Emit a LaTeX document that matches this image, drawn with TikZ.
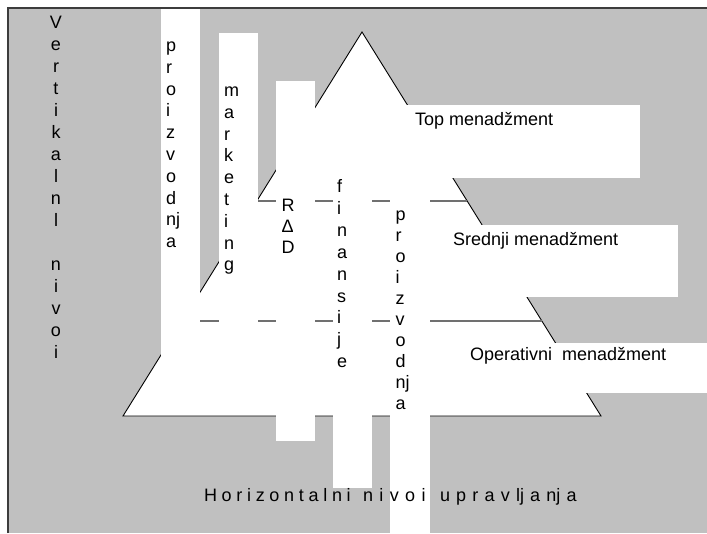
\documentclass[tikz,border=0pt]{standalone}
\usepackage{fontspec}
\setmainfont{Liberation Sans}
\usetikzlibrary{calc}
\definecolor{panel}{RGB}{192,192,192}
\definecolor{rule}{RGB}{112,112,112}
\definecolor{frameline}{RGB}{60,60,60}
\newcommand{\spacedword}[2]{\spaceskip=#1pt\relax #2}
\begin{document}
\begin{tikzpicture}[x=1pt,y=-1pt,
  whitebox/.style={fill=white,draw=none},
  pyramidedge/.style={draw=black,line width=0.9pt},
  levelline/.style={draw=rule,line width=1.5pt},
  lbl/.style={font=\fontsize{18}{22}\selectfont,inner sep=0pt,outer sep=0pt},
]
\useasboundingbox (0,0) rectangle (707,533);

% grey panel
\fill[panel] (8,8) rectangle (707,533);

% management pyramid
\coordinate (apex) at (362,32);
\coordinate (bl) at (123,416);
\coordinate (br) at (601,416);
\filldraw[fill=white,pyramidedge] (apex) -- (bl) -- (br) -- cycle;

% boundaries between the management levels
\coordinate (upL) at ($(apex)!0.440!(bl)$);
\coordinate (upR) at ($(apex)!0.440!(br)$);
\coordinate (loL) at ($(apex)!0.7526!(bl)$);
\coordinate (loR) at ($(apex)!0.7526!(br)$);
\draw[levelline] (upL) -- (upR);
\draw[levelline] (loL) -- (loR);

% functional columns
\fill[whitebox] (161,9) rectangle (200,380);   % proizvodnja
\fill[whitebox] (219,33) rectangle (258,380);  % marketing
\fill[whitebox] (276,81) rectangle (315,441);  % R&D
\fill[whitebox] (333,150) rectangle (372,488); % finansije
\fill[whitebox] (390,180) rectangle (430,533); % proizvodnja

% level label panels
\fill[whitebox] (400,105) rectangle (640,178);
\fill[whitebox] (445,225) rectangle (678,297);
\fill[whitebox] (460,343) rectangle (707,393);

% panel border
\draw[frameline,line width=1.3pt] (8,533) -- (8,8) -- (707,8);

% vertical axis caption
\foreach \ch [count=\k from 0] in {V,e,r,t,i,k,a,l,n,l}
  \node[lbl,anchor=base] (va\k) at (56,{28+22*\k}) {\ch};
\foreach \ch [count=\k from 11] in {n,i,v,o,i}
  \node[lbl,anchor=base] (vb\k) at (56,{28+22*\k}) {\ch};

% column captions
\foreach \ch [count=\k from 0] in {p,r,o,i,z,v,o,d,nj,a}
  \node[lbl,anchor=base west] (pa\k) at (166,{51.5+21.8*\k}) {\ch};
\foreach \ch [count=\k from 0] in {m,a,r,k,e,t,i,n,g}
  \node[lbl,anchor=base west] (mk\k) at (224,{96.5+21.8*\k}) {\ch};
\foreach \ch [count=\k from 0] in {R,Δ,D}
  \node[lbl,anchor=base west] (rd\k) at (281.5,{211+21*\k}) {\ch};
\foreach \ch [count=\k from 0] in {f,i,n,a,n,s,i,j,e}
  \node[lbl,anchor=base west] (fi\k) at (337,{192.5+21.9*\k}) {\ch};
\foreach \ch [count=\k from 0] in {p,r,o,i,z,v,o,d,nj,a}
  \node[lbl,anchor=base west] (pb\k) at (395.5,{220+21.1*\k}) {\ch};

% level labels
\node[lbl,anchor=base west] (top) at (415,125) {Top menadžment};
\node[lbl,anchor=base west] (mid) at (453,245.5) {Srednji menadžment};
\node[lbl,anchor=base west] (ops) at (470,360) {Operativni\ \ menadžment};

% horizontal axis caption, letter-spaced word by word
\node[lbl,anchor=base west] (hz1) at (204,501) {\spacedword{4.7}{H o r i z o n t a l n i}};
\node[lbl,anchor=base west] (hz2) at (363,501) {\spacedword{6.4}{n i v o i}};
\node[lbl,anchor=base west] (hz3) at (440,501) {\spacedword{6.2}{u p r a v lj a nj a}};
\end{tikzpicture}
\end{document}
